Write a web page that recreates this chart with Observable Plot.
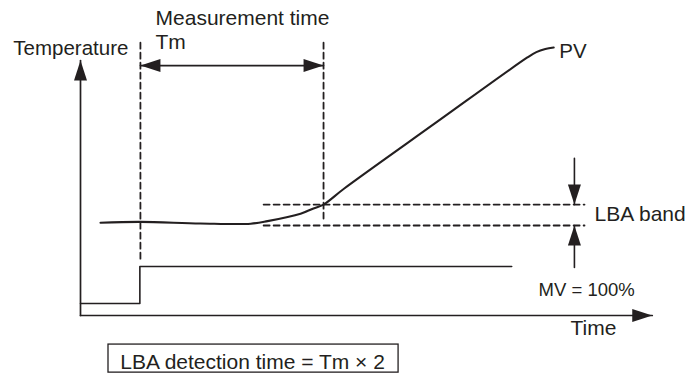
<!DOCTYPE html>
<html>
<head>
<meta charset="utf-8">
<script src="https://cdn.jsdelivr.net/npm/d3@7"></script>
<script src="https://cdn.jsdelivr.net/npm/@observablehq/plot@0.6"></script>
<style>
  html, body { margin: 0; padding: 0; background: #fff; }
  #chart svg { display: block; }
</style>
</head>
<body>
<div id="chart"></div>
<script>
// Schematic coordinates: time t (0..100) and temperature T (0..100)
const pvTime = [3.57, 10.71, 21.4, 30.4, 33.4, 39.3, 41.6, 43.4, 47.1, 63.4, 79.8, 81.4, 83.0, 84.5];
const pvTemp = [36.4, 36.7, 36.1, 36.0, 37.0, 39.9, 42.0, 43.5, 49.8, 75.5, 101.2, 103.3, 104.5, 105.1];

const mvTime = [0, 10.6, 10.6, 77.0];
const mvLevel = [4.7, 4.7, 19.2, 19.2];

const axisTimeEnd = 102.1;
const axisTempEnd = 100;

const tmStart = 10.7;          // start of measurement time
const tmEnd = 43.4;            // end of measurement time
const tmArrowLevel = 98;
const dashTop = 107;
const dashBottoms = [20.8, 38.0];

const bandUpper = 43.5;
const bandLower = 35.3;
const bandStart = 32.7;
const bandEnd = 90.0;
const bandArrowTime = 88.2;
const bandArrowTop = 61.6;
const bandArrowBottom = 18.8;

const boxTime = [5.0, 56.8];
const boxTemp = [-11.4, -22.4];

const labels = [
  {text: "Temperature", t: -12.0, T: 102.0, size: 20.5},
  {text: "Measurement time", t: 13.4, T: 114.0, size: 21},
  {text: "Tm", t: 13.4, T: 104.7, size: 21},
  {text: "PV", t: 85.5, T: 100.8, size: 20.5},
  {text: "LBA band", t: 91.8, T: 36.9, size: 21},
  {text: "MV = 100%", t: 81.8, T: 7.5, size: 18.5},
  {text: "Time", t: 87.5, T: -7.8, size: 21},
  {text: "LBA detection time = Tm \u00d7 2", t: 7.1, T: -20.8, size: 21}
];

const ink = "#231f20";

const pv = pvTime.map((t, i) => ({t, T: pvTemp[i]}));
const mv = mvTime.map((t, i) => ({t, T: mvLevel[i]}));

const axes = [
  {t: 0, T: axisTempEnd, g: "y"}, {t: 0, T: 0, g: "y"},
  {t: 0, T: 0, g: "x"}, {t: axisTimeEnd, T: 0, g: "x"}
];

const dashedV = [
  {t: tmStart, T: dashTop, g: "a"}, {t: tmStart, T: dashBottoms[0], g: "a"},
  {t: tmEnd, T: dashTop, g: "b"}, {t: tmEnd, T: dashBottoms[1], g: "b"}
];
const dashedH = [
  {t: bandStart, T: bandUpper, g: "u"}, {t: bandEnd, T: bandUpper, g: "u"},
  {t: bandStart, T: bandLower, g: "l"}, {t: bandEnd, T: bandLower, g: "l"}
];
const solidArrows = [
  {t: tmStart, T: tmArrowLevel, g: "tm"}, {t: tmEnd, T: tmArrowLevel, g: "tm"},
  {t: bandArrowTime, T: bandArrowTop, g: "bt"}, {t: bandArrowTime, T: bandUpper, g: "bt"},
  {t: bandArrowTime, T: bandArrowBottom, g: "bb"}, {t: bandArrowTime, T: bandLower, g: "bb"}
];
const heads = [
  {t: 0, T: axisTempEnd, angle: 0},
  {t: axisTimeEnd, T: 0, angle: 90},
  {t: tmStart, T: tmArrowLevel, angle: 270},
  {t: tmEnd, T: tmArrowLevel, angle: 90},
  {t: bandArrowTime, T: bandUpper, angle: 180},
  {t: bandArrowTime, T: bandLower, angle: 0}
];

const headSymbol = {
  draw(ctx) {
    ctx.moveTo(0, 0);
    ctx.lineTo(6.5, 20);
    ctx.lineTo(-6.5, 20);
    ctx.closePath();
  }
};

const chart = Plot.plot({
  width: 688,
  height: 374,
  margin: 0,
  style: {fontFamily: "'Liberation Sans', Arial, Helvetica, sans-serif", background: "#fff", color: ink},
  x: {domain: [0, 100], range: [80, 640], axis: null},
  y: {domain: [0, 100], range: [315, 60], axis: null},
  marks: [
    Plot.rect([{x1: boxTime[0], x2: boxTime[1], y1: boxTemp[0], y2: boxTemp[1]}],
      {x1: "x1", x2: "x2", y1: "y1", y2: "y2", fill: "none", stroke: ink, strokeWidth: 1.3}),
    Plot.line(dashedV, {x: "t", y: "T", z: "g", stroke: ink, strokeWidth: 1.8, strokeDasharray: "6,4"}),
    Plot.line(dashedH, {x: "t", y: "T", z: "g", stroke: ink, strokeWidth: 1.8, strokeDasharray: "6,4"}),
    Plot.line(axes, {x: "t", y: "T", z: "g", stroke: ink, strokeWidth: 1.7}),
    Plot.line(mv, {x: "t", y: "T", stroke: ink, strokeWidth: 1.6}),
    Plot.line(solidArrows, {x: "t", y: "T", z: "g", stroke: ink, strokeWidth: 1.6}),
    Plot.line(pv, {x: "t", y: "T", stroke: ink, strokeWidth: 2.1, curve: "catmull-rom"}),
    Plot.dot(heads, {x: "t", y: "T", rotate: "angle", symbol: headSymbol, r: 1, fill: ink, strokeWidth: 0}),
    Plot.text(labels, {x: "t", y: "T", text: "text", fontSize: "size", textAnchor: "start", lineAnchor: "bottom", fill: ink})
  ]
});
document.getElementById("chart").appendChild(chart);
</script>
</body>
</html>
